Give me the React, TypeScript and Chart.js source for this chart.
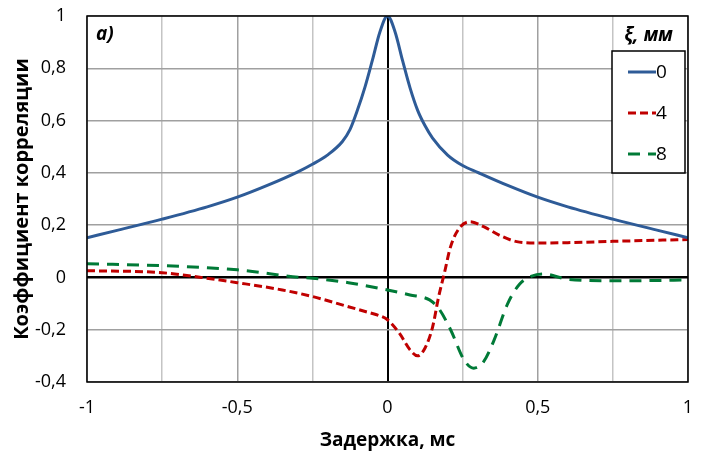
import { useEffect, useRef } from 'react';
import { Chart, registerables } from 'chart.js';

Chart.register(...registerables);

const FONT = "'Open Sans', 'DejaVu Sans', sans-serif";

// ξ = 0 mm
const blueX = [-1, -0.9, -0.75, -0.6, -0.5, -0.4, -0.3, -0.25, -0.2, -0.15, -0.125, -0.1, -0.075, -0.05, -0.025, 0,
  0.025, 0.05, 0.075, 0.1, 0.125, 0.15, 0.2, 0.25, 0.3, 0.4, 0.5, 0.6, 0.75, 0.9, 1];
const blueY = [0.152, 0.18, 0.223, 0.27, 0.307, 0.352, 0.403, 0.433, 0.468, 0.52, 0.565, 0.64, 0.728, 0.832, 0.94, 1.0,
  0.94, 0.83, 0.725, 0.64, 0.58, 0.533, 0.468, 0.428, 0.402, 0.352, 0.307, 0.27, 0.223, 0.18, 0.152];

// ξ = 4 mm
const redX = [-1, -0.75, -0.62, -0.5, -0.35, -0.25, -0.13, -0.06, -0.03, 0, 0.04, 0.075, 0.1, 0.125, 0.15, 0.17, 0.19,
  0.21, 0.24, 0.275, 0.32, 0.375, 0.43, 0.5, 0.6, 0.75, 1];
const redY = [0.026, 0.018, 0.0, -0.02, -0.048, -0.073, -0.112, -0.135, -0.145, -0.162, -0.214, -0.277, -0.3, -0.27,
  -0.19, -0.075, 0.02, 0.118, 0.19, 0.213, 0.194, 0.16, 0.137, 0.132, 0.133, 0.138, 0.145];

// ξ = 8 mm
const greenX = [-1, -0.75, -0.5, -0.29, -0.25, -0.13, 0, 0.075, 0.14, 0.17, 0.21, 0.255, 0.287, 0.32, 0.355, 0.4, 0.44,
  0.48, 0.52, 0.6, 0.75, 1];
const greenY = [0.052, 0.045, 0.029, 0.0, -0.003, -0.02, -0.048, -0.067, -0.086, -0.118, -0.2, -0.316, -0.347, -0.322,
  -0.239, -0.1, -0.025, 0.005, 0.013, -0.007, -0.013, -0.01];

const seriesNames = ['0', '4', '8'];
const seriesColors = ['#2E5B97', '#C00000', '#007A37'];
const seriesDash = [[], [8, 4], [12, 8]];

const toPoints = (xs: number[], ys: number[]) => xs.map((x, i) => ({ x, y: ys[i] }));
const fmt = (v: number) => String(Math.round(v * 100) / 100).replace('.', ',');
const isZero = (v: any) => typeof v === 'number' && Math.abs(v) < 1e-9;

// frame around the plot area + "a)" mark + boxed legend with title
const decorations = {
  id: 'decorations',
  afterDatasetsDraw(chart: any) {
    const { ctx, chartArea: a } = chart;
    ctx.save();
    ctx.strokeStyle = '#000';
    ctx.lineWidth = 1.5;
    ctx.strokeRect(a.left, a.top, a.right - a.left, a.bottom - a.top);
    ctx.restore();
  },
  afterDraw(chart: any) {
    const { ctx, chartArea: a } = chart;
    ctx.save();
    ctx.fillStyle = '#000';
    ctx.font = `italic bold 19px ${FONT}`;
    ctx.textBaseline = 'middle';
    ctx.textAlign = 'left';
    ctx.fillText('a)', a.left + 9, a.top + 19);

    // legend
    const bx = a.right - 76, by = a.top + 35, bw = 73, bh = 122;
    ctx.textAlign = 'center';
    ctx.font = `italic bold 19px ${FONT}`;
    ctx.fillText('ξ, мм', bx + bw / 2, a.top + 20);
    ctx.fillStyle = '#fff';
    ctx.fillRect(bx, by, bw, bh);
    ctx.strokeStyle = '#000';
    ctx.lineWidth = 1.5;
    ctx.strokeRect(bx, by, bw, bh);

    ctx.font = `19px ${FONT}`;
    ctx.textAlign = 'left';
    seriesNames.forEach((name, i) => {
      const y = by + 21 + i * 41;
      ctx.strokeStyle = seriesColors[i];
      ctx.lineWidth = 3;
      ctx.setLineDash(seriesDash[i]);
      ctx.beginPath();
      ctx.moveTo(bx + 16, y);
      ctx.lineTo(bx + 44, y);
      ctx.stroke();
      ctx.setLineDash([]);
      ctx.fillStyle = '#000';
      ctx.fillText(name, bx + 44, y + 1);
    });
    ctx.restore();
  },
};

const CorrelationChart = () => {
  const canvasRef = useRef<HTMLCanvasElement>(null);

  useEffect(() => {
    document.body.style.margin = '0';
    if (!canvasRef.current) return;

    const datasets = [toPoints(blueX, blueY), toPoints(redX, redY), toPoints(greenX, greenY)].map((data, i) => ({
      label: seriesNames[i],
      data,
      borderColor: seriesColors[i],
      borderWidth: 3,
      borderDash: seriesDash[i],
      pointRadius: 0,
      fill: false,
      cubicInterpolationMode: 'monotone' as const,
    }));

    const chart = new Chart(canvasRef.current, {
      type: 'line',
      data: { datasets },
      plugins: [decorations],
      options: {
        animation: false,
        responsive: true,
        maintainAspectRatio: false,
        layout: { padding: { top: 16, right: 22, left: 0, bottom: 0 } },
        plugins: { legend: { display: false }, tooltip: { enabled: false } },
        scales: {
          x: {
            type: 'linear',
            min: -1,
            max: 1,
            afterFit: (s: any) => {
              s.height = 81;
              s.paddingLeft = 0;
              s.paddingRight = 0;
            },
            ticks: {
              stepSize: 0.25,
              padding: 15,
              color: '#000',
              font: { family: FONT, size: 18 },
              callback: (v: any) => (Math.abs(v * 2 - Math.round(v * 2)) < 1e-6 ? fmt(v) : ''),
            },
            grid: {
              drawTicks: false,
              lineWidth: (c: any) => (isZero(c.tick?.value) ? 2 : 1.5),
              color: (c: any) => {
                const v = c.tick?.value;
                if (isZero(v)) return '#000';
                return Math.abs(v * 2 - Math.round(v * 2)) < 1e-6 ? '#a0a0a0' : '#c4c4c4';
              },
            },
            border: { display: false },
            title: {
              display: true,
              text: 'Задержка, мс',
              color: '#000',
              font: { family: FONT, size: 19, weight: 'bold' },
              padding: { bottom: 11 },
            },
          },
          y: {
            min: -0.4,
            max: 1,
            afterFit: (s: any) => {
              s.width = 87;
              s.paddingTop = 0;
              s.paddingBottom = 0;
            },
            ticks: {
              stepSize: 0.2,
              padding: 21,
              color: '#000',
              font: { family: FONT, size: 18 },
              callback: (v: any) => fmt(v),
            },
            grid: {
              drawTicks: false,
              lineWidth: (c: any) => (isZero(c.tick?.value) ? 2.5 : 1.5),
              color: (c: any) => (isZero(c.tick?.value) ? '#000' : '#a0a0a0'),
            },
            border: { display: false },
            title: {
              display: true,
              text: 'Коэффициент корреляции',
              color: '#000',
              font: { family: FONT, size: 20, weight: 'bold' },
              padding: { top: 10 },
            },
          },
        },
      },
    });

    return () => {
      chart.destroy();
    };
  }, []);

  return (
    <div style={{ position: 'relative', width: '710px', height: '463px', background: '#fff' }}>
      <canvas ref={canvasRef} />
    </div>
  );
};

export default function App() {
  return <CorrelationChart />;
}
